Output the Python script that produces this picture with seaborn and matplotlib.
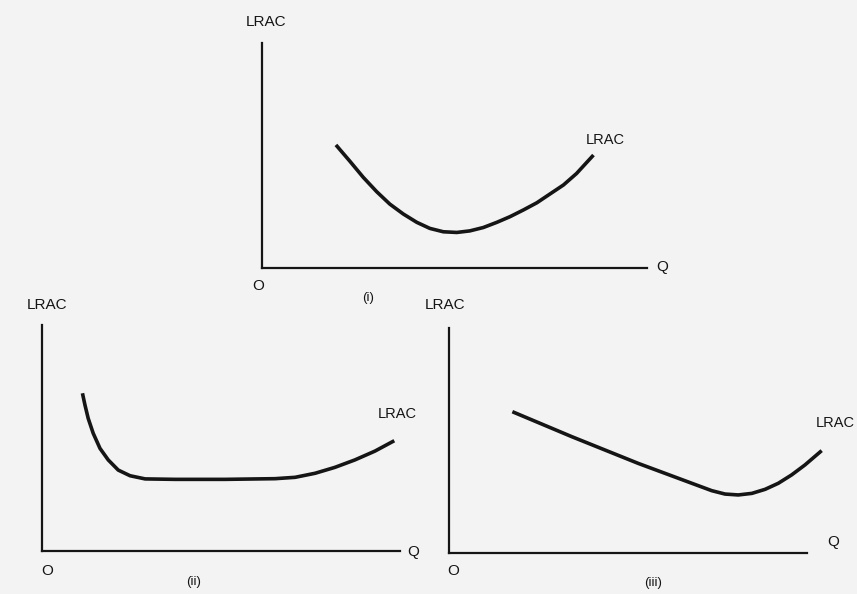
import pandas as pd
import matplotlib.pyplot as plt
import seaborn as sns

# values, in axis units (0-10 on both axes)
# (i) U-shaped LRAC
q_i = [1.92, 2.29, 2.63, 2.98, 3.32, 3.67, 4.02, 4.36, 4.71, 5.06, 5.40,
       5.75, 6.10, 6.44, 6.79, 7.14, 7.48, 7.83, 8.17, 8.61]
lrac_i = [5.47, 4.73, 4.03, 3.39, 2.84, 2.40, 2.03, 1.76, 1.61, 1.58, 1.65,
          1.80, 2.03, 2.28, 2.58, 2.90, 3.29, 3.69, 4.20, 5.02]

# (ii) LRAC with a long flat bottom
q_ii = [1.13, 1.20, 1.29, 1.43, 1.62, 1.85, 2.13, 2.46, 2.88, 3.72, 5.11,
        6.51, 7.07, 7.63, 8.18, 8.74, 9.30, 9.84]
lrac_ii = [6.98, 6.46, 5.87, 5.21, 4.54, 4.03, 3.58, 3.33, 3.19, 3.17, 3.17,
           3.20, 3.26, 3.44, 3.70, 4.03, 4.42, 4.88]

# (iii) LRAC falling over most of the range, turning up late
q_iii = [1.77, 3.43, 5.29, 6.78, 7.34, 7.71, 8.08, 8.46, 8.83, 9.20, 9.57, 9.94, 10.41]
lrac_iii = [6.28, 5.17, 3.98, 3.10, 2.77, 2.62, 2.58, 2.65, 2.83, 3.10, 3.47, 3.91, 4.55]

panel_names = ["(i)", "(ii)", "(iii)"]

sns.set_theme(style="white")
plt.rcParams['font.family'] = ['Liberation Sans', 'DejaVu Sans']

bg = "#f3f3f3"
ink = "#151515"

fig = plt.figure(figsize=(8.57, 5.94), dpi=100, facecolor=bg)
W, H = 857, 594

def make_ax(x0, y0, x1, y1):
    # pixel box: (x0, y0) origin, x1 right end of Q axis, y1 top of LRAC axis
    return fig.add_axes([x0 / W, (H - y0) / H, (x1 - x0) / W, (y0 - y1) / H])

axes = [make_ax(262, 268, 647, 43), make_ax(42, 551, 400, 325), make_ax(449, 553, 807, 328)]
curves = [(q_i, lrac_i), (q_ii, lrac_ii), (q_iii, lrac_iii)]

# label spots (data coords): top LRAC, O, Q, panel name, curve LRAC
spots = [
    [(0.1, 10.93), (-0.1, -0.8), (10.39, 0.04), (2.75, -1.33), (8.91, 5.69)],
    [(0.14, 10.88), (0.14, -0.88), (10.36, -0.04), (4.22, -1.37), (9.92, 6.06)],
    [(-0.11, 11.02), (0.11, -0.8), (10.73, 0.49), (5.70, -1.33), (10.78, 5.78)],
]

for ax, (q, lrac), name, sp in zip(axes, curves, panel_names, spots):
    ax.set_facecolor(bg)
    df = pd.DataFrame({"Q": q, "LRAC": lrac})
    sns.lineplot(data=df, x="Q", y="LRAC", ax=ax, sort=False, estimator=None,
                 color=ink, linewidth=2.6, clip_on=False,
                 solid_joinstyle="round", solid_capstyle="butt")
    ax.set_xlim(0, 10)
    ax.set_ylim(0, 10)
    ax.set_xticks([])
    ax.set_yticks([])
    ax.set_xlabel("")
    ax.set_ylabel("")
    sns.despine(ax=ax)
    for s in ["left", "bottom"]:
        ax.spines[s].set_color(ink)
        ax.spines[s].set_linewidth(1.6)

    kw = dict(ha="center", va="center", color=ink, clip_on=False)
    ax.text(*sp[0], "LRAC", fontsize=11, **kw)
    ax.text(*sp[1], "O", fontsize=11, **kw)
    ax.text(*sp[2], "Q", fontsize=11, **kw)
    ax.text(*sp[3], name, fontsize=9.5, **kw)
    ax.text(*sp[4], "LRAC", fontsize=10.5, **kw)

fig.savefig("out.png", dpi=100, facecolor=bg)
